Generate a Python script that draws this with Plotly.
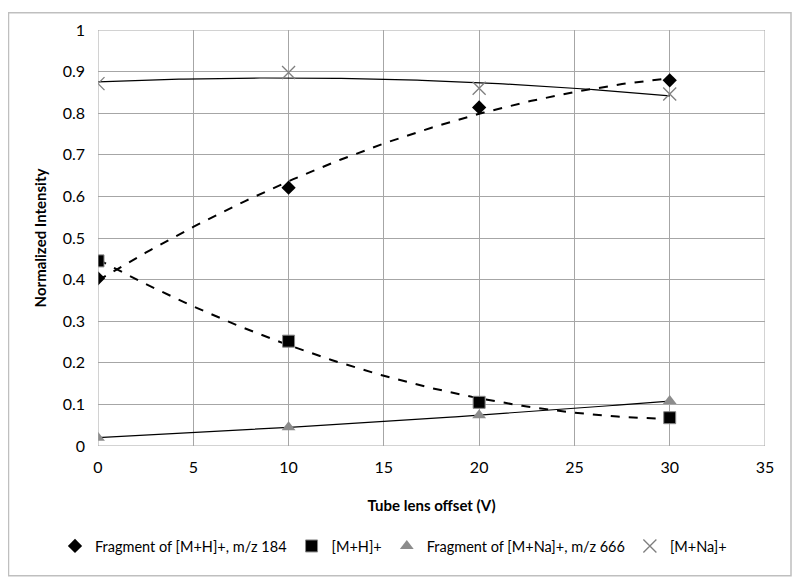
import numpy as np
import plotly.graph_objects as go

offset_v = [0, 10, 20, 30]
frag_mh = [0.403, 0.621, 0.814, 0.879]
mh = [0.445, 0.252, 0.105, 0.068]
frag_mna = [0.020, 0.045, 0.074, 0.108]
mna = [0.871, 0.898, 0.860, 0.846]

names = ["Fragment of [M+H]+, m/z 184", "[M+H]+", "Fragment of [M+Na]+, m/z 666", "[M+Na]+"]
series = [frag_mh, mh, frag_mna, mna]
symbols = ["diamond", "square", "triangle-up", "x-thin-open"]
colors = ["#000000", "#000000", "#8c8c8c", "#7f7f7f"]
sizes = [11, 12, 12, 13]
dashes = ["dash", "dash", "solid", "solid"]

fig = go.Figure()
xs = np.linspace(0, 30, 121)
for ys, dash in zip(series, dashes):
    c = np.polyfit(offset_v, ys, 2)
    fig.add_trace(go.Scatter(x=xs, y=np.polyval(c, xs), mode="lines",
                             line=dict(color="black", width=2 if dash == "dash" else 1.2, dash=dash),
                             showlegend=False, hoverinfo="skip"))
for name, ys, sym, col, sz in zip(names, series, symbols, colors, sizes):
    fig.add_trace(go.Scatter(x=offset_v, y=ys, mode="markers", name=name,
                             marker=dict(symbol=sym, size=sz, color=col,
                                         line=dict(color=col if sym != "square" else "#888888",
                                                   width=1.3 if sym == "x-thin-open" else (1 if sym == "square" else 0)))))

font = "Lato"
W, H = 784, 570
L, R, T, B = 90, 27, 18, 132
pw, ph = W - L - R, H - T - B
fig.update_layout(
    width=W, height=H,
    margin=dict(l=L, r=R, t=T, b=B),
    paper_bgcolor="white", plot_bgcolor="white",
    font=dict(family=font, size=16, color="black"),
    xaxis=dict(range=[0, 35], dtick=5, showgrid=True, gridcolor="#a6a6a6", gridwidth=1,
               zeroline=False, showline=False, ticks="", tickfont=dict(size=16), ticklabelstandoff=10,
               title=dict(text="<b>Tube lens offset (V)</b>", font=dict(size=15), standoff=25)),
    yaxis=dict(range=[0, 1], dtick=0.1, showgrid=True, gridcolor="#a6a6a6", gridwidth=1,
               zeroline=False, showline=False, ticks="", tickfont=dict(size=16), ticklabelstandoff=12,
               title=dict(text="<b>Normalized Intensity</b>", font=dict(size=15), standoff=12)),
    legend=dict(orientation="h", x=(47 - L) / pw, xanchor="left", y=-(539 - (T + ph)) / ph, yanchor="middle",
                font=dict(size=14.5), itemwidth=30, tracegroupgap=0),
    shapes=[
        dict(type="line", xref="x", yref="y", x0=0, x1=0, y0=0, y1=1, line=dict(color="#a6a6a6", width=1)),
        dict(type="line", xref="x", yref="y", x0=0, x1=35, y0=0, y1=0, line=dict(color="#a6a6a6", width=1)),
        dict(type="line", xref="x", yref="y", x0=35, x1=35, y0=0, y1=1, line=dict(color="#a6a6a6", width=1)),
        dict(type="line", xref="x", yref="y", x0=0, x1=35, y0=1, y1=1, line=dict(color="#a6a6a6", width=1)),
        dict(type="rect", xref="paper", yref="paper",
             x0=(0.5 - L) / pw, x1=(W - 1 - L) / pw,
             y0=-(B - 1) / ph, y1=(ph + T - 0.5) / ph,
             line=dict(color="#bfbfbf", width=1.5), layer="below"),
    ],
)
fig.write_html("out.html")
